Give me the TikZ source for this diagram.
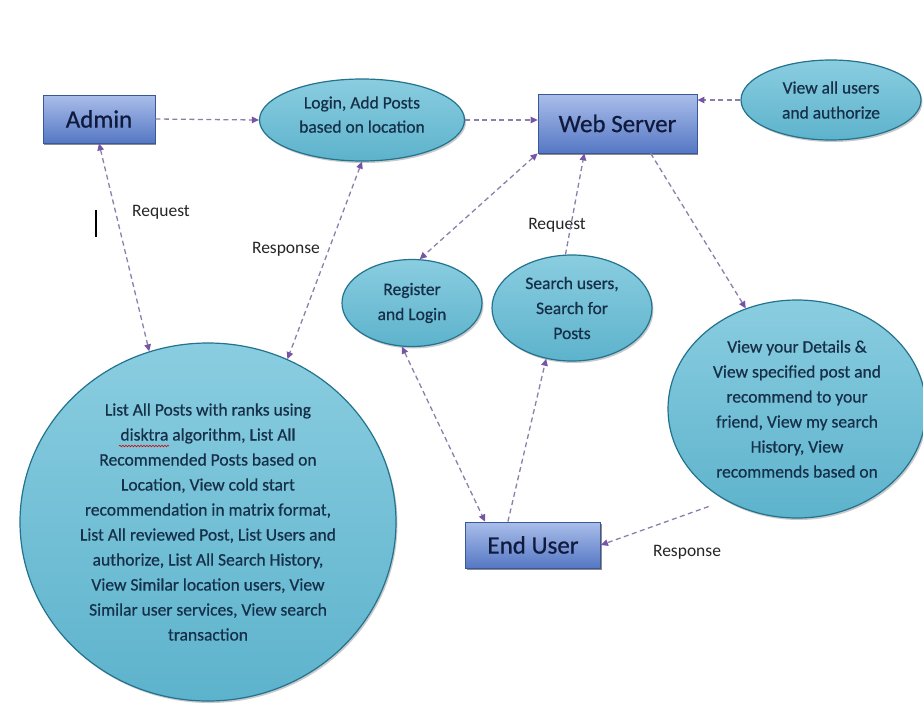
\documentclass[tikz,border=0pt]{standalone}
\usepackage{fontspec}
\setmainfont{Carlito}
\newfontfamily\heavyface[FakeBold=0.6]{Carlito}
\usetikzlibrary{shapes.geometric,arrows.meta,shadows,decorations.pathmorphing}

\definecolor{flowline}{HTML}{8C7FAA}
\definecolor{flowtip}{HTML}{7655A6}
\definecolor{boxtop}{HTML}{AABEEA}
\definecolor{boxmid}{HTML}{6A8CD6}
\definecolor{boxbot}{HTML}{5577C4}
\definecolor{boxedge}{HTML}{3A5896}
\definecolor{boxtext}{HTML}{101A3C}
\definecolor{caseTop}{HTML}{8ACDE0}
\definecolor{caseMid}{HTML}{47A8C6}
\definecolor{caseBot}{HTML}{5DB3CC}
\definecolor{caseEdge}{HTML}{23728E}
\definecolor{caseText}{HTML}{16304A}

\tikzset{
  actor/.style={rectangle, draw=boxedge, line width=0.8pt,
    top color=boxtop, middle color=boxmid, bottom color=boxbot,
    inner sep=0pt, text=boxtext, font=\heavyface\fontsize{25}{30}\selectfont,
    drop shadow={shadow xshift=1.2pt, shadow yshift=-2.2pt, opacity=0.6, fill=black!75}},
  usecase/.style={ellipse, draw=caseEdge, line width=1.2pt,
    top color=caseTop, middle color=caseMid, bottom color=caseBot,
    inner sep=0pt, align=center, text=caseText,
    font=\heavyface\fontsize{17.5}{25}\selectfont,
    drop shadow={shadow xshift=1.5pt, shadow yshift=-2pt, opacity=0.35, fill=black!60}},
  tip/.tip={Triangle[length=7pt, width=6.5pt, color=flowtip]},
  flow/.style={draw=flowline, line width=1.3pt, dash pattern=on 5pt off 3.5pt, -tip},
  flowboth/.style={flow, tip-tip},
  lbl/.style={font=\fontsize{17.5}{20}\selectfont, text=black!85, inner sep=0pt},
  spellmark/.style={draw=red!85!black, line width=0.6pt, decorate,
    decoration={snake, amplitude=0.8pt, segment length=3pt}}
}

\begin{document}
\begin{tikzpicture}[x=1pt, y=-1pt]
  \useasboundingbox (0,0) rectangle (923,717);
  \clip (0,0) rectangle (923,717);
  \fill[white] (0,0) rectangle (923,717);

  % actors
  \node[actor, minimum width=112pt, minimum height=48pt] (admin) at (99,119) {Admin};
  \node[actor, minimum width=159pt, minimum height=59pt] (web) at (617.5,123.5) {Web Server};
  \node[actor, minimum width=135pt, minimum height=46pt] (enduser) at (533,545) {End User};

  % use cases
  \node[usecase, minimum width=205pt, minimum height=82pt] (login) at (362,120)
    {\raisebox{11pt}{\shortstack{Login, Add Posts\\[6pt]based on location}}};
  \node[usecase, minimum width=180pt, minimum height=80pt] (viewall) at (831,100)
    {View all users\\and authorize};
  \node[usecase, minimum width=140pt, minimum height=87pt] (register) at (412,303)
    {Register\\and Login};
  \node[usecase, minimum width=160pt, minimum height=106pt] (search) at (572,308)
    {Search users,\\Search for\\Posts};
  \node[usecase, minimum width=258pt, minimum height=218pt] (rightc) at (797,409)
    {View your Details \&\\View specified post and\\recommend to your\\friend, View my search\\History, View\\recommends based on};
  \node[usecase, minimum width=376pt, minimum height=358pt] (bigc) at (208,522)
    {List All Posts with ranks using\\
     disktra algorithm, List All\\
     Recommended Posts based on\\
     Location, View cold start\\
     recommendation in matrix format,\\
     List All reviewed Post, List Users and\\
     authorize, List All Search History,\\
     View Similar location users, View\\
     Similar user services, View search\\
     transaction};
  % spell-check squiggle under "disktra"
  \draw[spellmark] (119,446) -- (169,446);

  % labels
  \node[lbl] (req1) at (161,212) {Request};
  \node[lbl] (resp1) at (286,249) {Response};
  \node[lbl] (req2) at (557,225) {Request};
  \node[lbl] (resp2) at (687,552) {Response};

  % text cursor mark
  \draw[line width=2pt] (96,210) -- (96,237);

  % connectors
  \draw[flow] (admin.east) -- (login.west);
  \draw[flow] (login.east) -- (login.east -| web.west);
  \draw[flow] (viewall.west) -- (viewall.west -| web.east);
  \draw[flowboth] (admin.south) -- (bigc.109);
  \draw[flowboth] (login.south) -- (bigc.64);
  \draw[flowboth] (web.south west) -- (register.80);
  \draw[flow] (search.97) -- (web.222);
  \draw[flow] (web.318) -- (rightc.117);
  \draw[flowboth] (register.257) -- (enduser.154);
  \draw[flow] (enduser.137) -- (search.243);
  \draw[flow, shorten <=18pt] (rightc.232) -- (enduser.east);
\end{tikzpicture}
\end{document}
